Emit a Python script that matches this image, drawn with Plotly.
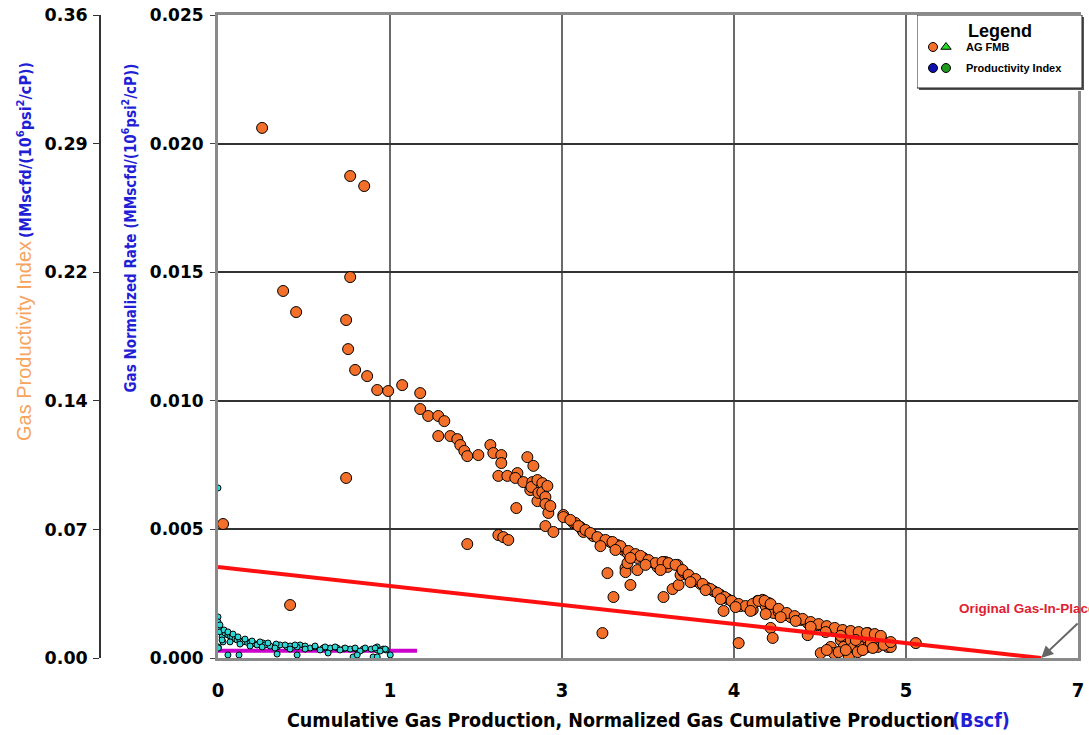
import plotly.graph_objects as go

W, H = 1089, 735

# AG FMB: cumulative gas production (Bscf) vs gas normalized rate
fmb_cum = [
    0.041, 0.359, 0.530, 0.587, 0.636, 1.043, 1.043, 1.059, 1.076, 1.076,
    1.116, 1.190, 1.214, 1.296, 1.385, 1.499, 1.646, 1.646, 1.711, 1.793,
    1.842, 1.793, 1.891, 1.948, 1.972, 2.005, 2.029, 2.029, 2.119, 2.217,
    2.241, 2.282, 2.282, 2.306, 2.306, 2.322, 2.355, 2.363, 2.428, 2.437,
    2.420, 2.485, 2.518, 2.559, 2.567, 2.542, 2.551, 2.600, 2.600, 2.608,
    2.640, 2.640, 2.665, 2.665, 2.665, 2.681, 2.689, 2.705, 2.730, 2.811,
    2.811, 2.893, 2.909, 2.950, 2.966, 2.974, 3.048, 3.056, 3.113, 3.129,
    3.170, 3.194, 3.219, 3.252, 3.300, 3.317, 3.317, 3.333, 3.333, 3.357,
    3.382, 3.414, 3.414, 3.463, 3.496, 3.520, 3.577, 3.626, 3.626, 3.643,
    3.659, 3.700, 3.740, 3.749, 3.765, 3.789, 3.830, 3.871, 3.928, 3.985,
    4.034, 4.091, 4.115, 4.148, 4.197, 4.238, 4.254, 4.311, 4.352, 4.392,
    4.433, 4.458, 4.482, 4.498, 4.498, 4.515, 4.523, 4.564, 4.604, 4.661,
    4.743, 4.800, 4.800, 4.824, 4.881, 4.906, 4.946, 4.987, 5.012, 5.012,
    5.069, 5.085, 5.093, 5.134, 5.150, 5.150, 5.175, 5.215, 5.232, 5.289,
    5.289, 5.289, 5.338, 5.370, 5.395, 5.452, 5.476, 5.680,
    # upper edge of the main decline trend
    2.868, 2.934, 2.991, 3.031, 3.088, 3.154, 3.211, 3.276, 3.341, 3.398,
    3.439, 3.504, 3.561, 3.618, 3.667, 3.724, 3.781, 3.830, 3.887, 3.944,
    4.009, 4.066, 4.123, 4.180, 4.238, 4.295, 4.352, 4.400, 4.449, 4.498,
    4.563, 4.629, 4.694, 4.759, 4.824, 4.889, 4.955, 5.020, 5.085, 5.150,
    5.215, 5.281, 5.346, 5.395,
    # lower edge of the main decline trend
    3.113, 3.235, 3.357, 3.480, 3.602, 3.846, 3.969, 4.091, 4.213, 4.335,
    4.458, 4.580, 4.702, 4.824, 4.946, 5.069, 5.191, 5.313,
    # late-time scatter near the axis
    4.955, 5.052, 5.110, 5.207, 5.248, 5.330, 5.419, 5.476,
]
fmb_rate = [
    0.00521, 0.02061, 0.01427, 0.00206, 0.01345, 0.01314, 0.00700, 0.01201, 0.01874, 0.01481,
    0.01120, 0.01835, 0.01096, 0.01042, 0.01038, 0.01061, 0.01030, 0.00968, 0.00941, 0.00941,
    0.00921, 0.00863, 0.00863, 0.00851, 0.00828, 0.00805, 0.00785, 0.00443, 0.00789, 0.00828,
    0.00797, 0.00708, 0.00478, 0.00789, 0.00758, 0.00470, 0.00708, 0.00459, 0.00583, 0.00719,
    0.00700, 0.00684, 0.00781, 0.00684, 0.00747, 0.00653, 0.00665, 0.00692, 0.00610, 0.00642,
    0.00680, 0.00645, 0.00626, 0.00599, 0.00513, 0.00669, 0.00564, 0.00591, 0.00490, 0.00556,
    0.00548, 0.00525, 0.00525, 0.00509, 0.00498, 0.00490, 0.00478, 0.00474, 0.00459, 0.00097,
    0.00330, 0.00451, 0.00237, 0.00439, 0.00420, 0.00350, 0.00334, 0.00408, 0.00369, 0.00284,
    0.00400, 0.00389, 0.00342, 0.00389, 0.00373, 0.00373, 0.00354, 0.00237, 0.00373, 0.00373,
    0.00354, 0.00268, 0.00362, 0.00284, 0.00323, 0.00334, 0.00319, 0.00299, 0.00288, 0.00272,
    0.00260, 0.00245, 0.00183, 0.00229, 0.00214, 0.00058, 0.00202, 0.00198, 0.00187, 0.00222,
    0.00226, 0.00202, 0.00214, 0.00187, 0.00117, 0.00078, 0.00175, 0.00179, 0.00167, 0.00159,
    0.00148, 0.00136, 0.00089, 0.00128, 0.00128, 0.00019, 0.00121, 0.00043, 0.00113, 0.00019,
    0.00070, 0.00105, 0.00043, 0.00004, 0.00101, 0.00070, 0.00043, 0.00097, 0.00043, 0.00097,
    0.00074, 0.00043, 0.00089, 0.00043, 0.00078, 0.00043, 0.00043, 0.00058,
    0.00537, 0.00513, 0.00498, 0.00486, 0.00470, 0.00459, 0.00451, 0.00435, 0.00416, 0.00404,
    0.00397, 0.00381, 0.00369, 0.00373, 0.00369, 0.00362, 0.00342, 0.00323, 0.00307, 0.00288,
    0.00268, 0.00253, 0.00237, 0.00222, 0.00210, 0.00202, 0.00210, 0.00222, 0.00222, 0.00210,
    0.00191, 0.00175, 0.00163, 0.00152, 0.00140, 0.00132, 0.00124, 0.00117, 0.00109, 0.00105,
    0.00101, 0.00097, 0.00093, 0.00086,
    0.00435, 0.00420, 0.00389, 0.00362, 0.00342, 0.00295, 0.00264, 0.00229, 0.00198, 0.00183,
    0.00171, 0.00159, 0.00144, 0.00121, 0.00101, 0.00086, 0.00070, 0.00058,
    0.00031, 0.00023, 0.00031, 0.00023, 0.00031, 0.00039, 0.00051, 0.00062,
]

# Productivity index vs normalized gas cumulative production
pi_cum = [
    0.000, 0.000, 0.000, 0.003, 0.016, 0.033, 0.041, 0.002, 0.003, 0.057,
    0.081, 0.098, 0.114, 0.139, 0.155, 0.179, 0.204, 0.240, 0.261, 0.302,
    0.318, 0.367, 0.383, 0.424, 0.481, 0.505, 0.562, 0.587, 0.668, 0.644,
    0.709, 0.750, 0.790, 0.856, 0.913, 0.970, 1.027, 1.076, 1.116, 1.182,
    1.247, 1.296, 1.296, 1.345, 1.369,
    0.016, 0.049, 0.081, 0.122, 0.163, 0.220, 0.277, 0.342, 0.407, 0.473,
    0.546, 0.627, 0.709, 0.790, 0.872, 0.953, 1.035, 1.116, 1.198, 1.279,
    1.361,
    0.033, 0.098, 0.179, 0.261, 0.359, 0.464, 0.587, 0.709, 0.831, 0.994,
    1.157, 1.320,
    0.081, 0.171, 0.481, 0.644, 0.896, 1.100, 1.133, 1.263, 1.296, 1.402,
]
pi_val = [
    0.0952, 0.0230, 0.0202, 0.0168, 0.0146, 0.0118, 0.0090, 0.0062, 0.0056, 0.0140,
    0.0129, 0.0123, 0.0118, 0.0107, 0.0101, 0.0095, 0.0090, 0.0087, 0.0084, 0.0079,
    0.0073, 0.0084, 0.0073, 0.0067, 0.0062, 0.0073, 0.0062, 0.0067, 0.0073, 0.0062,
    0.0062, 0.0056, 0.0062, 0.0056, 0.0056, 0.0056, 0.0053, 0.0050, 0.0053, 0.0050,
    0.0050, 0.0062, 0.0045, 0.0050, 0.0045,
    0.0185, 0.0157, 0.0146, 0.0134, 0.0118, 0.0106, 0.0095, 0.0090, 0.0084, 0.0078,
    0.0073, 0.0073, 0.0067, 0.0067, 0.0062, 0.0062, 0.0056, 0.0056, 0.0056, 0.0056,
    0.0050,
    0.0101, 0.0090, 0.0078, 0.0067, 0.0062, 0.0056, 0.0050, 0.0050, 0.0045, 0.0045,
    0.0039, 0.0039,
    0.0017, 0.0017, 0.0022, 0.0017, 0.0028, 0.0006, 0.0017, 0.0006, 0.0006, 0.0017,
]

# Straight-line FMB extrapolation to original gas-in-place
ogip_x = [0.0, 6.70]
ogip_y = [0.00354, 0.0]

# Productivity index trend
pi_fit_x = [0.0, 1.62]
pi_fit_y = [0.00028, 0.00028]

x_ticks = [0.0, 1.4, 2.8, 4.2, 5.6, 7.0]
x_tick_text = ["0", "1", "3", "4", "5", "7"]
rate_ticks = [0.0, 0.005, 0.010, 0.015, 0.020, 0.025]
rate_tick_text = ["0.000", "0.005", "0.010", "0.015", "0.020", "0.025"]
pi_ticks = [0.0, 0.072, 0.144, 0.216, 0.288, 0.36]
pi_tick_text = ["0.00", "0.07", "0.14", "0.22", "0.29", "0.36"]

ORANGE = "#f4702a"
CYAN = "#2fd6d6"
BLUE_TXT = "#1f1fd6"
NARROW = "Liberation Sans Narrow, Arial Narrow, DejaVu Sans Condensed, sans-serif"
WIDE = "DejaVu Sans, Verdana, sans-serif"
ARIAL = "Liberation Sans, Arial, sans-serif"


def px(v):
    return v / W


def py(v):
    return 1 - v / H


fig = go.Figure()

fig.add_trace(go.Scatter(
    x=pi_cum, y=pi_val, mode="markers", yaxis="y2", name="Productivity Index",
    marker=dict(size=6, color=CYAN, line=dict(color="black", width=1)),
))
fig.add_trace(go.Scatter(
    x=fmb_cum, y=fmb_rate, mode="markers", name="AG FMB",
    marker=dict(size=11, color=ORANGE, line=dict(color="black", width=1)),
))
fig.add_trace(go.Scatter(
    x=pi_fit_x, y=pi_fit_y, mode="lines",
    line=dict(color="#cc00cc", width=4),
))
fig.add_trace(go.Scatter(
    x=ogip_x, y=ogip_y, mode="lines",
    line=dict(color="#ff1010", width=4),
))

# legend panel: its own small subplot so it sits above the grid and data
lx0, lx1, ly0, ly1 = 917, 1082, 15, 88
fig.add_trace(go.Scatter(
    x=[lx0 + 2, lx1 + 2, lx1 + 2, lx0 + 2, lx0 + 2],
    y=[ly0 + 2, ly0 + 2, ly1 + 2, ly1 + 2, ly0 + 2],
    xaxis="x3", yaxis="y3", mode="lines", fill="toself",
    fillcolor="#555", line=dict(color="#555", width=0),
))
fig.add_trace(go.Scatter(
    x=[lx0, lx1, lx1, lx0, lx0], y=[ly0, ly0, ly1, ly1, ly0],
    xaxis="x3", yaxis="y3", mode="lines", fill="toself",
    fillcolor="white", line=dict(color="#222", width=1),
))
fig.add_trace(go.Scatter(
    x=[933, 946, 933, 946], y=[47, 47, 68, 68], xaxis="x3", yaxis="y3",
    mode="markers",
    marker=dict(size=9, symbol=["circle", "triangle-up", "circle", "circle"],
                color=[ORANGE, "#22dd22", "#1010b0", "#1f9a1f"],
                line=dict(color="black", width=1)),
))

fig.update_layout(
    width=W, height=H,
    margin=dict(l=0, r=0, t=0, b=0, pad=0),
    paper_bgcolor="white", plot_bgcolor="white",
    showlegend=False,
    xaxis=dict(
        domain=[px(218), px(1078)], range=[0, 7], automargin=False,
        tickvals=x_ticks, ticktext=x_tick_text,
        tickfont=dict(family=NARROW, size=20, color="black", weight="bold"),
        ticks="", ticklabelstandoff=12,
        showgrid=True, gridcolor="#6a6a6a", gridwidth=2,
        showline=True, linecolor="#8a8a8a", linewidth=3, mirror=True,
        zeroline=False,
    ),
    yaxis=dict(
        domain=[py(658), py(15)], range=[0, 0.025], automargin=False,
        tickvals=rate_ticks, ticktext=rate_tick_text,
        tickfont=dict(family=WIDE, size=17, color="black", weight="bold"),
        ticks="outside", ticklen=5, tickcolor="#444", ticklabelstandoff=3,
        showgrid=True, gridcolor="#333333", gridwidth=1.5,
        showline=True, linecolor="#8a8a8a", linewidth=3, mirror=True,
        zeroline=False,
    ),
    yaxis2=dict(
        overlaying="y", anchor="free", position=px(100), side="left", automargin=False,
        range=[0, 0.36], tickvals=pi_ticks, ticktext=pi_tick_text,
        tickfont=dict(family=WIDE, size=17.5, color="black", weight="bold"),
        ticks="outside", ticklen=6, tickcolor="#333", ticklabelstandoff=2,
        showgrid=False, zeroline=False,
        showline=True, linecolor="#333", linewidth=1.5,
    ),
    xaxis3=dict(domain=[px(lx0), px(lx1 + 3)], range=[lx0, lx1 + 3],
                visible=False, anchor="y3", fixedrange=True, automargin=False),
    yaxis3=dict(domain=[py(ly1 + 3), py(ly0)], range=[ly1 + 3, ly0],
                visible=False, anchor="x3", fixedrange=True, automargin=False),
)


def note(text, x, y, xanchor="center", yanchor="middle", **kw):
    return dict(text=text, x=px(x), y=py(y), xref="paper", yref="paper",
                xanchor=xanchor, yanchor=yanchor, showarrow=False, **kw)


annotations = [
    note("<b>Legend</b>", 1000, 31, font=dict(family=ARIAL, size=18, color="black")),
    note("<b>AG FMB</b>", 964, 47, xanchor="left",
         font=dict(family=ARIAL, size=11, color="black")),
    note("<b>Productivity Index</b>", 964, 68, xanchor="left",
         font=dict(family=ARIAL, size=11, color="black")),
    # outer axis title: orange name, blue units
    note("Gas Productivity Index", 24, 443, yanchor="bottom", textangle=-90,
         font=dict(family=ARIAL, size=20, color="#f6a45e")),
    note("<b>(MMscfd/(10<sup>6</sup>psi<sup>2</sup>/cP))</b>", 24, 60, yanchor="top",
         textangle=-90, font=dict(family=NARROW, size=16, color=BLUE_TXT)),
    # inner axis title
    note("<b>Gas Normalized Rate (MMscfd/(10<sup>6</sup>psi<sup>2</sup>/cP))</b>", 129, 62,
         yanchor="top", textangle=-90, font=dict(family=NARROW, size=15, color=BLUE_TXT)),
    # x axis title
    note("<b>Cumulative Gas Production, Normalized Gas Cumulative Production</b>", 957, 720,
         xanchor="right", font=dict(family=NARROW, size=19.5, color="black")),
    note("<b>(Bscf)</b>", 950, 720, xanchor="left",
         font=dict(family=NARROW, size=19.5, color=BLUE_TXT)),
    # OGIP callout
    note("<b>Original Gas-In-Place</b>", 957, 608, xanchor="left",
         font=dict(family=ARIAL, size=13.5, color="#e02030")),
    dict(text="", x=ogip_x[1], y=ogip_y[1], xref="x", yref="y",
         showarrow=True, arrowhead=2, arrowsize=1.2, arrowwidth=2, arrowcolor="#666",
         ax=38, ay=-36),
]
fig.update_layout(annotations=annotations)

fig.write_html("out.html")
